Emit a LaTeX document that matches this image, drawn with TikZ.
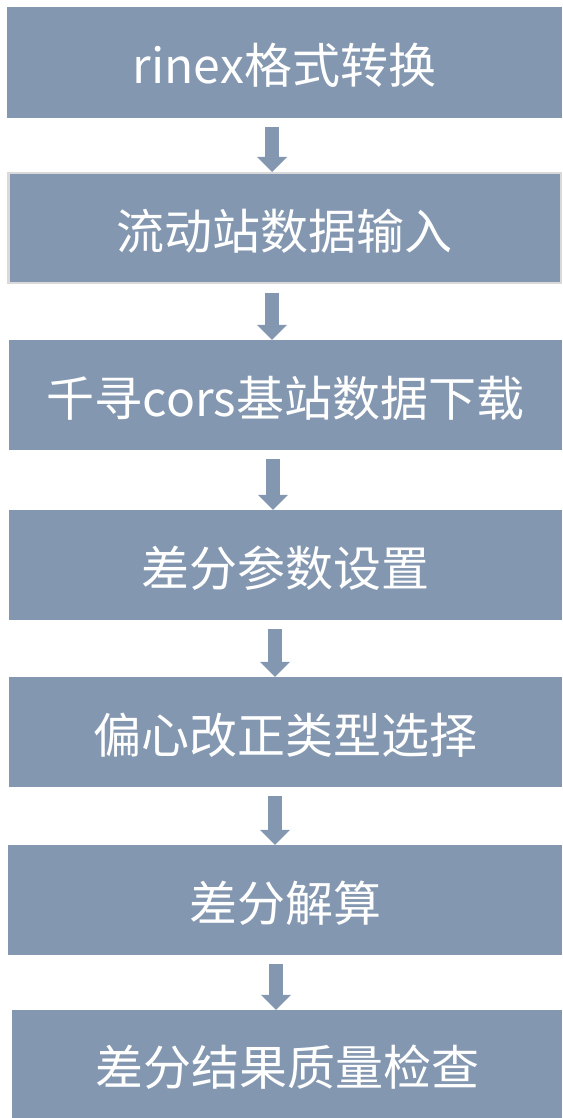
\documentclass[tikz,border=0pt]{standalone}
\usepackage{fontspec}
\setmainfont{Noto Sans CJK SC}
\usetikzlibrary{arrows.meta}
\definecolor{boxblue}{HTML}{8497B0}
\definecolor{edgegray}{HTML}{D9D9D9}
\begin{document}
\begin{tikzpicture}[x=1pt,y=-1pt,
  box/.style={fill=boxblue, draw=none, text=white,
    font=\fontsize{48pt}{56pt}\selectfont, inner sep=0pt,
    text height=46pt, text depth=4pt,
    minimum height=110pt},
  flow/.style={draw=boxblue, line width=14pt,
    -{Triangle[width=30pt,length=15pt,line width=0pt]},
    shorten <=9pt}]
\useasboundingbox (0,0) rectangle (562,1118);
\node[box, minimum width=555pt, minimum height=111pt] (b1) at (284.5,62.5) {rinex格式转换};
\node[box, draw=edgegray, line width=2.5pt, minimum width=552.5pt, minimum height=109.5pt] (b2) at (284.5,228) {流动站数据输入};
\node[box, minimum width=553pt] (b3) at (285.5,395) {千寻cors基站数据下载};
\node[box, minimum width=553pt] (b4) at (285.5,565) {差分参数设置};
\node[box, minimum width=553pt] (b5) at (285.5,732) {偏心改正类型选择};
\node[box, minimum width=554pt] (b6) at (285,900) {差分解算};
\node[box, minimum width=550pt, minimum height=108pt] (b7) at (287,1064) {差分结果质量检查};
\coordinate (x1) at (272,0);
\coordinate (x2) at (272,0);
\coordinate (x3) at (273,0);
\coordinate (x4) at (275,0);
\coordinate (x5) at (275,0);
\coordinate (x6) at (276,0);
\draw[flow] (b1.south -| x1) -- (b2.north -| x1);
\draw[flow] (b2.south -| x2) -- (b3.north -| x2);
\draw[flow] (b3.south -| x3) -- (b4.north -| x3);
\draw[flow] (b4.south -| x4) -- (b5.north -| x4);
\draw[flow] (b5.south -| x5) -- (b6.north -| x5);
\draw[flow] (b6.south -| x6) -- (b7.north -| x6);
\end{tikzpicture}
\end{document}
